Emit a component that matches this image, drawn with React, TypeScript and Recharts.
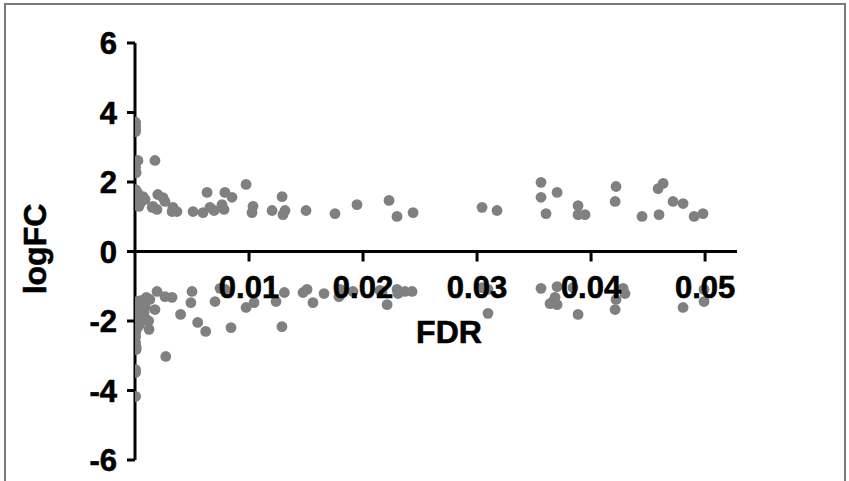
import React from 'react';
import { ScatterChart, Scatter, XAxis, YAxis, ReferenceLine } from 'recharts';

// ---- data ----
const upFDR = [
  0.00005, 0.00005, 0.00005, 0.00005, 0.00026, 0.00175, 0.00005, 0.0001, 0.00005, 0.0002,
  0.0001, 0.0003, 0.00044, 0.0007, 0.0005, 0.00035, 0.00088, 0.00158, 0.0015, 0.00193,
  0.002, 0.00246, 0.00263, 0.00333, 0.00368, 0.00325, 0.00509, 0.00596, 0.00632, 0.00658,
  0.00693, 0.00763, 0.00781, 0.00789, 0.00851, 0.00974, 0.01035, 0.01026, 0.01202, 0.0129,
  0.01316, 0.01298, 0.015, 0.01754, 0.01947, 0.02228, 0.02298, 0.02439, 0.03044, 0.03175,
  0.03561, 0.03561, 0.03702, 0.03605, 0.03886, 0.03886, 0.03947, 0.04219, 0.04211, 0.04447,
  0.04596, 0.04588, 0.04632, 0.04719, 0.04807, 0.04904, 0.04982,
];
const upLogFC = [
  3.72, 3.62, 3.52, 3.45, 2.62, 2.62, 2.42, 2.27, 1.78, 1.7,
  1.62, 1.45, 1.55, 1.58, 1.41, 1.3, 1.5, 1.3, 1.27, 1.21,
  1.64, 1.55, 1.44, 1.27, 1.15, 1.15, 1.15, 1.12, 1.7, 1.27,
  1.18, 1.35, 1.21, 1.7, 1.56, 1.93, 1.3, 1.12, 1.18, 1.58,
  1.18, 1.06, 1.18, 1.09, 1.35, 1.47, 1.01, 1.12, 1.27, 1.18,
  1.99, 1.56, 1.7, 1.09, 1.32, 1.06, 1.06, 1.87, 1.44, 1.01,
  1.06, 1.81, 1.96, 1.44, 1.38, 1.01, 1.09,
];
const downFDR = [
  0.00193, 0.00263, 0.00325, 0.001, 0.0013, 0.00175, 0.0006, 0.00026, 0.00018, 0.001,
  0.00123, 0.00005, 0.00005, 0.00005, 0.0001, 0.00005, 0.00005, 0.00005, 0.0027, 0.004,
  0.005, 0.0049, 0.0055, 0.0062, 0.00702, 0.00746, 0.00789, 0.00842, 0.00974, 0.01044,
  0.01237, 0.0131, 0.01289, 0.01474, 0.01509, 0.01561, 0.01658, 0.01798, 0.01789, 0.01912,
  0.02149, 0.02167, 0.02211, 0.02298, 0.02307, 0.02368, 0.0243, 0.03044, 0.03096, 0.03096,
  0.03561, 0.03702, 0.03684, 0.0364, 0.03702, 0.03667, 0.03842, 0.03886, 0.04281, 0.04298,
  0.04219, 0.04211, 0.04807, 0.04991, 0.04991,
  0.00005, 0.00005, 0.00005, 0.00005, 0.0002, 0.0003, 0.0004, 0.0007, 0.0004, 0.0002,
  0.00005, 0.0008, 0.00005, 0.0001, 0.0012, 0.0009,
];
const downLogFC = [
  -1.15, -1.3, -1.32, -1.32, -1.38, -1.67, -1.53, -1.61, -1.76, -1.96,
  -2.24, -2.04, -2.33, -2.62, -2.82, -3.4, -3.48, -4.17, -3.02, -1.81,
  -1.15, -1.47, -2.04, -2.3, -1.44, -1.06, -1.09, -2.19, -1.61, -1.47,
  -1.44, -1.18, -2.16, -1.18, -1.09, -1.47, -1.21, -1.09, -1.3, -1.15,
  -1.12, -1.18, -1.53, -1.09, -1.21, -1.15, -1.15, -1.04, -1.09, -1.78,
  -1.06, -1.01, -1.32, -1.5, -1.53, -1.44, -1.04, -1.81, -1.06, -1.21,
  -1.38, -1.67, -1.61, -1.09, -1.44,
  -1.45, -1.6, -1.75, -1.9, -1.5, -1.85, -1.42, -1.4, -2.1, -2.2,
  -2.15, -1.75, -2.45, -2.75, -2.0, -1.6,
];
const xTicks = [0.01, 0.02, 0.03, 0.04, 0.05];
const yTicks = [-6, -4, -2, 0, 2, 4, 6];

const upData = upFDR.map((f, i) => ({ fdr: f, logfc: upLogFC[i] }));
const downData = downFDR.map((f, i) => ({ fdr: f, logfc: downLogFC[i] }));

// ---- layout ----
const W = 849;
const H = 481;
const TOP = 43;
const LEFT = 135;
const RIGHT_END = 737;
const X_AXIS_H = 21;
const PLOT_H = H - X_AXIS_H - TOP;
const Y0 = TOP + PLOT_H / 2; // pixel of logFC = 0 (domain is symmetric)
const FONT = "'Liberation Sans', Arial, Helvetica, sans-serif";
const DOT = '#808080';
const HEAVY = { stroke: '#000', strokeWidth: 0.6 };

const XTick = (props: any) => {
  const { x, payload } = props;
  return (
    <g>
      <line x1={x} x2={x} y1={Y0} y2={Y0 + 10} stroke="#000" strokeWidth={3} />
      <text x={x} y={Y0 + 46} textAnchor="middle" fontSize={31} fontWeight={700} fontFamily={FONT} fill="#000" {...HEAVY}>
        {payload.value}
      </text>
    </g>
  );
};

const YTitle = () => (
  <text x={46} y={249} transform="rotate(-90 46 249)" textAnchor="middle" fontSize={32} fontWeight={700} fontFamily={FONT} fill="#000" {...HEAVY}>
    logFC
  </text>
);
const XTitle = () => (
  <text x={449} y={343} textAnchor="middle" fontSize={32} fontWeight={700} fontFamily={FONT} fill="#000" {...HEAVY}>
    FDR
  </text>
);

const Dot = (props: any) => {
  const { cx, cy } = props;
  return <circle cx={cx} cy={cy} r={5.4} fill={DOT} />;
};

export default function App() {
  return (
    <div style={{ position: 'absolute', left: 0, top: 0, width: W, height: H, background: '#fff', overflow: 'hidden' }}>
      <div
        style={{
          position: 'absolute',
          left: 4,
          top: 3,
          width: 842,
          height: 500,
          border: '2px solid #7a7a7a',
          boxSizing: 'border-box',
        }}
      />
      <div style={{ position: 'absolute', left: 0, top: 0 }}>
        <ScatterChart width={W} height={H} margin={{ top: TOP, right: W - RIGHT_END, bottom: 0, left: 0 }}>
          <XAxis
            type="number"
            dataKey="fdr"
            domain={[0, 0.0528]}
            ticks={xTicks}
            interval={0}
            height={X_AXIS_H}
            axisLine={false}
            tickLine={false}
            tick={<XTick />}
            allowDataOverflow
            label={<XTitle />}
          />
          <YAxis
            type="number"
            dataKey="logfc"
            domain={[-6, 6]}
            ticks={yTicks}
            interval={0}
            width={LEFT}
            axisLine={{ stroke: '#000', strokeWidth: 3 }}
            tickLine={{ stroke: '#000', strokeWidth: 3 }}
            tickSize={8}
            tickMargin={10}
            tick={{ fill: '#000', fontSize: 31, fontWeight: 700, fontFamily: FONT, ...HEAVY }}
            label={<YTitle />}
          />
          <ReferenceLine y={0} stroke="#000" strokeWidth={3} />
          <Scatter data={upData} fill={DOT} shape={<Dot />} isAnimationActive={false} />
          <Scatter data={downData} fill={DOT} shape={<Dot />} isAnimationActive={false} />
        </ScatterChart>
      </div>
    </div>
  );
}
